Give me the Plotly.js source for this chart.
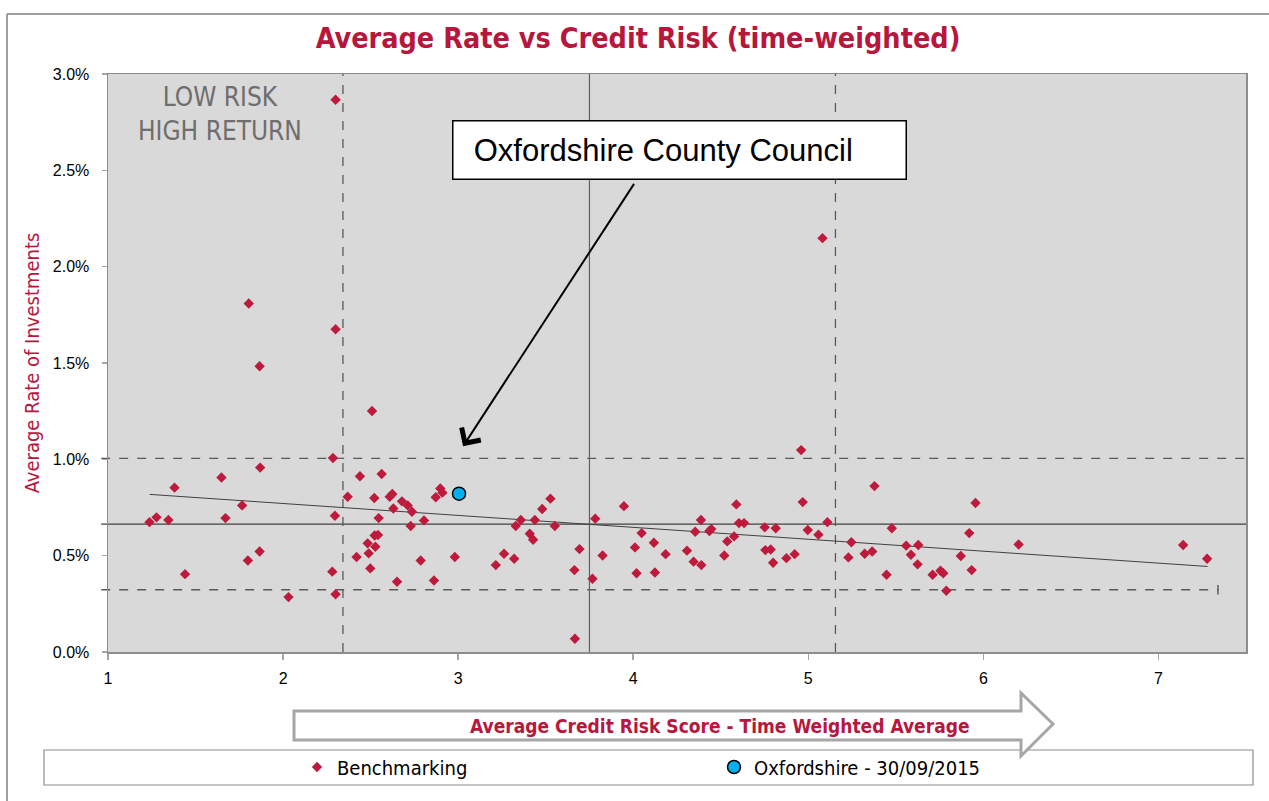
<!DOCTYPE html>
<html><head><meta charset="utf-8">
<script src="https://cdn.plot.ly/plotly-3.0.1.min.js"></script>
<style>html,body{margin:0;padding:0;background:#fff;}#chart{width:1269px;height:801px;}</style>
</head><body><div id="chart"></div>
<script>
// ---- data ----
const benchRisk = [1.237,1.277,1.345,1.380,1.440,1.648,1.671,1.766,1.799,1.804,1.866,1.866,1.869,2.031,2.281,2.285,2.296,2.300,2.300,2.300,
  2.369,2.420,2.439,2.483,2.489,2.498,2.508,2.521,2.523,2.527,2.542,2.546,2.563,2.609,2.624,2.630,2.651,2.679,2.712,2.729,
  2.736,2.786,2.805,2.862,2.872,2.898,2.910,2.981,3.215,3.262,3.320,3.329,3.358,3.409,3.428,3.438,3.480,3.527,3.552,3.664,
  3.667,3.693,3.767,3.783,3.825,3.947,4.010,4.019,4.048,4.118,4.124,4.185,4.307,4.345,4.354,4.387,4.389,4.435,4.446,4.520,
  4.537,4.576,4.589,4.604,4.633,4.751,4.755,4.785,4.799,4.814,4.875,4.922,4.959,4.968,4.997,5.058,5.081,5.109,5.229,5.246,
  5.322,5.365,5.378,5.447,5.477,5.559,5.586,5.624,5.628,5.710,5.755,5.771,5.788,5.871,5.919,5.933,5.955,6.201,7.141,7.278];
const benchRate = [0.674,0.699,0.685,0.853,0.404,0.906,0.695,0.761,0.475,1.809,1.483,0.522,0.957,0.285,0.417,1.007,0.707,2.866,1.675,0.300,
  0.806,0.493,0.912,0.564,0.512,0.434,1.251,0.799,0.605,0.546,0.607,0.695,0.924,0.806,0.820,0.745,0.365,0.782,0.761,0.654,
  0.728,0.475,0.683,0.371,0.803,0.849,0.827,0.493,0.451,0.510,0.484,0.654,0.685,0.614,0.583,0.685,0.742,0.796,0.654,0.425,
  0.069,0.534,0.380,0.692,0.501,0.757,0.543,0.409,0.617,0.567,0.413,0.508,0.526,0.469,0.624,0.685,0.451,0.628,0.638,0.501,
  0.574,0.600,0.766,0.669,0.669,0.647,0.529,0.532,0.463,0.642,0.487,0.508,1.048,0.778,0.633,0.609,2.148,0.674,0.491,0.570,
  0.510,0.522,0.861,0.401,0.642,0.552,0.505,0.455,0.555,0.401,0.422,0.409,0.318,0.498,0.617,0.425,0.773,0.558,0.555,0.484];
const oxfRisk = [3.005];
const oxfRate = [0.822];
const trendRisk = [1.238, 7.28];
const trendRate = [0.818, 0.444];
const meanRisk = 3.75, lowRisk = 2.342, highRisk = 5.155;
const meanRate = 0.664, lowRate = 0.323, highRate = 1.005;
const lowRateEnd = 7.34;
const xTicks = [1,2,3,4,5,6,7];
const yTicks = [0,0.5,1,1.5,2,2.5,3];
const yTickText = ['0.0%','0.5%','1.0%','1.5%','2.0%','2.5%','3.0%'];
const benchName = 'Benchmarking';
const oxfName = 'Oxfordshire - 30/09/2015';

// ---- styling ----
const CRIMSON = '#B8173D';
const TAH = "DejaVu Sans Condensed, DejaVu Sans, sans-serif";
const ARIAL = "Liberation Sans, Arial, sans-serif";
const xr = [1, 7.5];
// pixel helpers for decorations outside the plot (plot: x 108..1246, y 74..652)
const L = 108, T = 74, W = 1138, H = 578;
const px = v => (v - L) / W;
const py = v => (T + H - v) / H;

const traces = [
  {x: trendRisk, y: trendRate, mode: 'lines', line: {color: '#404040', width: 1}, showlegend: false, hoverinfo: 'skip'},
  {x: benchRisk, y: benchRate, mode: 'markers', name: benchName,
   marker: {symbol: 'diamond', size: 8, color: '#BE1A3C'}},
  {x: oxfRisk, y: oxfRate, mode: 'markers', name: oxfName,
   marker: {symbol: 'circle', size: 13, color: '#00B0F0', line: {color: '#000', width: 1.5}}}
];

const dashC = '#5a5a5a';
const shapes = [
  {type:'line', xref:'paper', yref:'y', x0:-0.006, x1:1, y0:highRate, y1:highRate, line:{color:dashC, width:1.3, dash:'dash'}, layer:'below'},
  {type:'line', xref:'paper', yref:'y', x0:-0.006, x1:1, y0:meanRate, y1:meanRate, line:{color:'#404040', width:1.2}, layer:'below'},
  {type:'line', xref:'paper', yref:'y', x0:-0.006, x1:(lowRateEnd - xr[0])/(xr[1]-xr[0]), y0:lowRate, y1:lowRate, line:{color:dashC, width:1.3, dash:'dash'}, layer:'below'},
  {type:'line', xref:'x', yref:'y', x0:lowRateEnd, x1:lowRateEnd, y0:lowRate-0.025, y1:lowRate+0.025, line:{color:'#404040', width:1.2}, layer:'below'},
  {type:'line', xref:'x', yref:'paper', x0:lowRisk, x1:lowRisk, y0:0, y1:1, line:{color:dashC, width:1.3, dash:'dash'}, layer:'below'},
  {type:'line', xref:'x', yref:'paper', x0:meanRisk, x1:meanRisk, y0:0, y1:1, line:{color:'#606060', width:1.2}, layer:'below'},
  {type:'line', xref:'x', yref:'paper', x0:highRisk, x1:highRisk, y0:0, y1:1, line:{color:dashC, width:1.3, dash:'dash'}, layer:'below'},
  {type:'line', xref:'paper', yref:'paper', x0:px(7), x1:px(7), y0:py(14), y1:py(801), line:{color:'#7f7f7f', width:1.5}},
  {type:'line', xref:'paper', yref:'paper', x0:px(7), x1:px(1269), y0:py(14), y1:py(14), line:{color:'#7f7f7f', width:1.5}},
  {type:'rect', xref:'paper', yref:'paper', x0:px(44), x1:px(1253), y0:py(785), y1:py(750), line:{color:'#8c8c8c', width:1.2}, fillcolor:'rgba(0,0,0,0)'},
  {type:'path', xref:'paper', yref:'paper',
   path:`M${px(294)},${py(711)} L${px(1021)},${py(711)} L${px(1021)},${py(693)} L${px(1053)},${py(724)} L${px(1021)},${py(756)} L${px(1021)},${py(740)} L${px(294)},${py(740)} Z`,
   line:{color:'#A6A6A6', width:3}, fillcolor:'#ffffff'}
];

const annotations = [
  {xref:'paper', yref:'paper', x:px(220), y:py(114), text:'LOW RISK<br>HIGH RETURN', showarrow:false,
   font:{family:TAH, size:26, color:'#6e6e6e'}, xanchor:'center', yanchor:'middle'},
  {xref:'x', yref:'y', x:3.028, y:1.068, ax:174, ay:-267, text:' ', showarrow:true,
   arrowhead:4, arrowsize:2.2, arrowwidth:2, arrowcolor:'#000'},
  {xref:'paper', yref:'paper', x:px(679.5), y:py(150), text:'&nbsp;&nbsp;Oxfordshire County Council', showarrow:false,
   font:{family:ARIAL, size:31, color:'#000'}, bgcolor:'#ffffff', bordercolor:'#000', borderwidth:1.5,
   width:446, height:51, borderpad:3, align:'left', xanchor:'center', yanchor:'middle'},
  {xref:'paper', yref:'paper', x:px(720), y:py(726), text:'Average Credit Risk Score - Time Weighted Average', showarrow:false,
   font:{family:TAH, size:19, color:CRIMSON, weight:700}, xanchor:'center', yanchor:'middle'}
];

const layout = {
  width: 1269, height: 801,
  margin: {l: L, r: 1269 - L - W, t: T, b: 801 - T - H},
  paper_bgcolor: '#ffffff', plot_bgcolor: '#D9D9D9',
  title: {text: 'Average Rate vs Credit Risk (time-weighted)', x: 638/1269, xanchor: 'center', y: 1 - 38/801, yanchor: 'middle',
          font: {family: TAH, size: 28.5, color: CRIMSON, weight: 700}},
  xaxis: {range: xr, tickvals: xTicks, ticks: 'outside', ticklen: 6, tickcolor: '#a6a6a6', tickwidth: 1.5,
          showline: true, linecolor: '#8c8c8c', linewidth: 1.5, mirror: true, showgrid: false, zeroline: false,
          ticklabelstandoff: 5, tickfont: {family: ARIAL, size: 16, color: '#000'}},
  yaxis: {range: [0, 3], tickvals: yTicks, ticktext: yTickText, ticks: 'outside', ticklen: 5, tickcolor: '#a6a6a6', tickwidth: 1.5,
          showline: true, linecolor: '#8c8c8c', linewidth: 1.5, mirror: true, showgrid: false, zeroline: false,
          ticklabelstandoff: 9, tickfont: {family: ARIAL, size: 16, color: '#000'},
          title: {text: 'Average Rate of Investments', font: {family: TAH, size: 20, color: CRIMSON}, standoff: 8}},
  showlegend: true,
  legend: {orientation: 'h', x: px(297), xanchor: 'left', y: py(767), yanchor: 'middle',
           bgcolor: 'rgba(0,0,0,0)', entrywidth: 372, itemwidth: 30,
           font: {family: TAH, size: 20, color: '#000'}},
  shapes: shapes,
  annotations: annotations
};

Plotly.newPlot('chart', traces, layout, {displayModeBar: false, staticPlot: true});
</script>
</body></html>
